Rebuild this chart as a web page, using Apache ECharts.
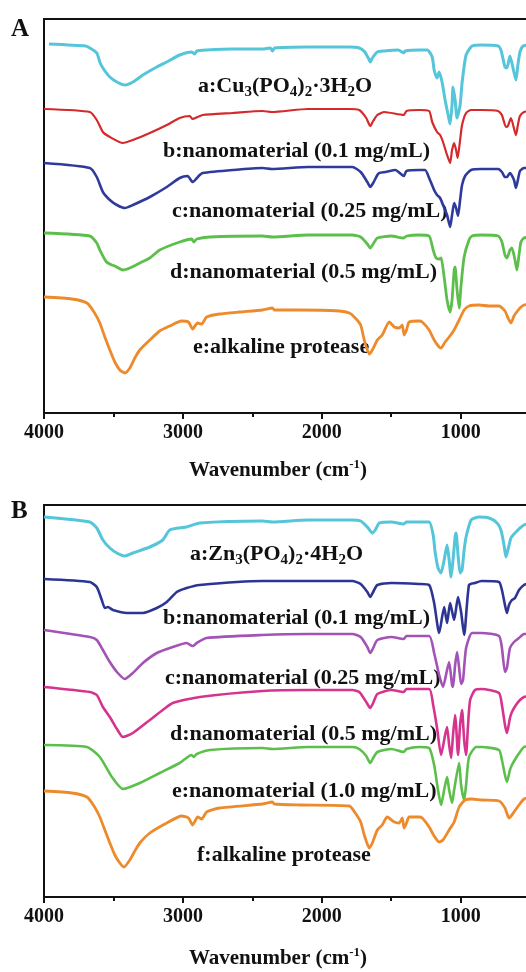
<!DOCTYPE html>
<html><head><meta charset="utf-8">
<script src="https://cdn.jsdelivr.net/npm/echarts@6/dist/echarts.min.js"></script>
<style>html,body{margin:0;padding:0;background:#fff}#c{width:526px;height:972px}</style>
</head><body><div id="c"></div><script>
// ---- axis ticks (wavenumber, cm-1) ----
const wnTicks = [1000, 2000, 3000, 4000];
const wnMinorTicks = [500, 1500, 2500, 3500];

// ---- Panel A spectra: [wavenumber, transmittance (a.u., offset)] ----
const cuPhosphate = [[3964,369],[3700,367],[3670,365],[3620,360],[3598,351],[3576,345],[3526,336],[3475,331],[3418,328],[3360,331],[3288,338],[3188,346],[3116,351],[3023,358],[2937,361],[2915,359],[2900,362],[2829,363],[2640,364],[2427,364],[2370,365],[2355,362],[2340,365],[2100,366],[1800,366],[1730,365],[1690,361],[1658,353],[1651,351],[1636,355],[1600,361],[1550,362],[1450,363],[1410,360],[1400,362],[1300,363],[1240,363],[1205,356],[1191,343],[1170,335],[1155,341],[1134,331],[1112,313],[1083,293],[1076,289],[1062,308],[1055,326],[1040,313],[1026,295],[1004,308],[990,330],[961,358],[918,367],[850,368],[730,367],[710,363],[681,346],[667,345],[645,357],[620,343],[602,333],[588,348],[573,361],[550,367],[500,368]];
const cuNano01 = [[4000,304],[3670,301],[3620,293],[3576,281],[3526,276],[3432,270],[3360,273],[3238,280],[3116,288],[3023,295],[2951,297],[2930,294],[2894,296],[2858,298],[2640,300],[2427,302],[2360,301],[2100,304],[1800,304],[1730,303],[1680,295],[1651,287],[1630,292],[1600,298],[1550,301],[1410,298],[1390,302],[1300,303],[1227,302],[1205,291],[1170,281],[1148,278],[1127,271],[1098,258],[1076,250],[1062,263],[1047,270],[1033,263],[1022,255],[1004,273],[990,288],[961,300],[925,303],[850,303],[730,302],[703,298],[674,286],[660,287],[638,295],[602,278],[588,288],[573,297],[544,301],[500,302]];
const cuNano025 = [[4000,250],[3670,245],[3620,236],[3576,221],[3526,213],[3475,208],[3418,205],[3360,208],[3238,216],[3116,226],[3023,235],[2966,237],[2930,231],[2879,238],[2858,240],[2640,243],[2427,245],[2360,244],[2100,246],[1780,246],[1720,241],[1672,231],[1651,226],[1630,230],[1600,238],[1586,240],[1540,241],[1470,243],[1410,237],[1390,242],[1300,243],[1256,243],[1227,235],[1191,223],[1170,218],[1148,215],[1127,208],[1098,198],[1076,186],[1062,198],[1047,210],[1033,205],[1019,197],[1004,213],[990,228],[968,237],[925,243],[850,244],[730,244],[703,241],[681,236],[667,236],[645,240],[616,233],[602,225],[588,233],[573,242],[544,245],[500,245]];
const cuNano05 = [[4000,180],[3670,177],[3620,170],[3598,163],[3550,151],[3511,148],[3490,147],[3432,143],[3382,145],[3310,150],[3238,155],[3167,163],[3023,171],[2937,174],[2922,171],[2900,174],[2807,176],[2427,177],[2355,176],[2100,178],[1780,178],[1720,176],[1672,169],[1651,165],[1630,169],[1600,175],[1500,177],[1410,175],[1390,177],[1300,178],[1227,177],[1198,163],[1177,155],[1155,154],[1141,155],[1119,136],[1098,113],[1076,101],[1062,113],[1047,143],[1040,146],[1026,123],[1011,105],[997,128],[975,156],[940,173],[918,177],[850,178],[730,177],[703,171],[681,158],[667,155],[645,163],[631,165],[609,153],[595,143],[580,158],[566,171],[544,175],[500,176]];
const cuProtease = [[4000,116],[3800,114],[3691,110],[3640,101],[3598,90],[3562,76],[3526,63],[3490,51],[3454,43],[3418,40],[3382,45],[3346,55],[3310,63],[3238,73],[3167,82],[3095,87],[3009,92],[2960,91],[2930,84],[2908,88],[2894,90],[2865,89],[2829,96],[2736,99],[2592,101],[2427,103],[2355,105],[2341,103],[2161,103],[1874,102],[1802,100],[1759,95],[1720,88],[1694,73],[1658,59],[1636,63],[1600,73],[1565,78],[1514,91],[1478,86],[1442,85],[1421,88],[1407,78],[1390,83],[1371,91],[1300,92],[1277,91],[1227,83],[1191,73],[1155,66],[1141,65],[1112,71],[1083,76],[1047,83],[1011,93],[975,103],[940,107],[868,108],[796,107],[724,107],[681,102],[659,95],[638,90],[616,97],[602,100],[573,105],[544,108],[500,109]];

// ---- Panel B spectra ----
const znPhosphate = [[4000,380],[3670,375],[3620,369],[3576,357],[3526,349],[3475,344],[3418,341],[3360,344],[3238,350],[3145,357],[3095,367],[2973,370],[2879,374],[2427,376],[2355,375],[2100,377],[1780,377],[1720,376],[1672,370],[1636,364],[1615,367],[1586,374],[1500,375],[1410,373],[1390,375],[1300,375],[1227,375],[1198,362],[1184,345],[1163,329],[1141,324],[1119,337],[1098,352],[1083,337],[1069,320],[1055,337],[1040,360],[1033,364],[1019,342],[1004,324],[990,327],[975,347],[961,360],[925,377],[868,380],[796,379],[738,374],[710,367],[688,352],[674,340],[660,347],[638,359],[616,363],[602,365],[573,369],[544,372],[500,374]];
const znNano01 = [[4000,318],[3670,315],[3620,310],[3584,297],[3562,289],[3540,290],[3504,287],[3403,284],[3288,284],[3188,289],[3116,295],[3044,305],[2973,309],[2879,312],[2427,316],[2100,316],[1780,316],[1720,313],[1672,305],[1651,300],[1630,305],[1600,312],[1500,314],[1300,313],[1227,312],[1191,294],[1155,264],[1119,290],[1098,274],[1076,294],[1047,277],[1019,300],[997,285],[975,262],[940,312],[897,314],[850,316],[724,315],[703,307],[681,292],[667,284],[652,292],[631,297],[609,299],[580,307],[544,312],[500,314]];
const znNano025 = [[4000,267],[3670,260],[3620,257],[3576,247],[3526,235],[3475,225],[3418,218],[3360,224],[3288,234],[3188,244],[3073,250],[2973,254],[2930,251],[2900,254],[2829,259],[2427,262],[2100,263],[1780,263],[1720,260],[1672,250],[1651,244],[1630,249],[1600,257],[1500,260],[1410,258],[1390,261],[1227,261],[1191,244],[1155,222],[1127,210],[1098,227],[1083,235],[1062,212],[1055,210],[1040,232],[1026,245],[1011,229],[997,213],[983,217],[961,249],[918,264],[850,264],[724,261],[703,249],[681,225],[667,229],[645,249],[616,255],[580,259],[544,263],[500,263]];
const znNano05 = [[4000,210],[3670,205],[3620,202],[3576,190],[3526,180],[3475,168],[3432,160],[3360,164],[3238,177],[3145,187],[3073,194],[2879,200],[2427,206],[2100,207],[1780,207],[1730,205],[1680,195],[1651,189],[1630,194],[1600,203],[1500,207],[1410,205],[1390,208],[1227,208],[1198,192],[1170,169],[1141,142],[1112,162],[1098,170],[1083,152],[1069,139],[1055,162],[1040,182],[1033,172],[1019,142],[1004,172],[990,187],[975,157],[961,142],[947,172],[932,197],[897,207],[850,208],[724,204],[703,192],[681,172],[667,164],[645,179],[631,185],[602,192],[573,197],[544,200],[500,201]];
const znNano10 = [[4000,152],[3691,150],[3598,140],[3511,120],[3432,108],[3310,114],[3167,124],[3023,134],[2937,142],[2922,140],[2900,143],[2807,147],[2427,149],[2355,148],[2100,150],[1780,150],[1730,148],[1680,141],[1651,134],[1630,139],[1600,145],[1500,148],[1410,145],[1390,148],[1300,150],[1227,149],[1191,132],[1163,107],[1141,92],[1119,107],[1098,120],[1083,107],[1062,94],[1047,107],[1011,134],[997,112],[975,97],[961,112],[940,140],[889,150],[850,150],[724,147],[703,137],[681,122],[667,115],[645,127],[631,132],[602,139],[573,145],[544,150],[500,151]];
const znProtease = [[4000,106],[3800,104],[3691,100],[3640,91],[3598,80],[3562,67],[3526,54],[3490,42],[3454,34],[3425,30],[3382,37],[3346,46],[3310,54],[3238,64],[3116,74],[3009,81],[2960,79],[2930,72],[2908,77],[2894,80],[2865,78],[2829,85],[2736,89],[2427,93],[2355,95],[2341,93],[2161,92],[1802,91],[1759,84],[1720,75],[1694,62],[1658,49],[1636,54],[1600,67],[1565,72],[1529,80],[1478,75],[1442,74],[1421,79],[1407,69],[1390,74],[1371,80],[1300,80],[1277,79],[1227,70],[1191,61],[1155,55],[1127,57],[1083,67],[1047,75],[1011,90],[968,97],[918,98],[850,97],[724,96],[681,89],[652,79],[631,82],[616,85],[580,92],[544,98],[500,100]];

const SERIF = '"Liberation Serif", "Times New Roman", serif';
const INK = '#111';

function grid(top, height) {
  return { left: 44, top: top, width: 500, height: height, show: true, containLabel: false,
           outerBoundsMode: 'none',
           borderColor: INK, borderWidth: 2, backgroundColor: 'transparent' };
}
function mainX(gi) {
  return { type: 'value', gridIndex: gi, min: 400, max: 4000, inverse: true, position: 'bottom',
    axisLine: { show: true, onZero: false, lineStyle: { color: INK, width: 2 } },
    axisTick: { show: true, inside: false, length: 6, customValues: wnTicks, lineStyle: { color: INK, width: 2 } },
    axisLabel: { show: true, customValues: wnTicks, margin: 10, color: INK,
      formatter: function (v) { return String(v); },
      fontFamily: SERIF, fontWeight: 'bold', fontSize: 20 },
    splitLine: { show: false } };
}
function minorX(gi) {
  return { type: 'value', gridIndex: gi, min: 400, max: 4000, inverse: true, position: 'bottom',
    axisLine: { show: false, onZero: false },
    axisTick: { show: true, inside: false, length: 4, customValues: wnMinorTicks, lineStyle: { color: INK, width: 2 } },
    axisLabel: { show: false }, splitLine: { show: false } };
}
function yAx(gi, max) {
  return { type: 'value', gridIndex: gi, min: 0, max: max, show: false };
}
function line(data, xi, yi, color, width) {
  return { type: 'line', data: data, xAxisIndex: xi, yAxisIndex: yi, symbol: 'none', showSymbol: false,
    smooth: 0.2, lineStyle: { color: color, width: width, join: 'round' }, animation: false, silent: true };
}

const subRich = {
  n: { fontFamily: SERIF, fontWeight: 'bold', fontSize: 22, lineHeight: 28, fill: INK },
  s: { fontFamily: SERIF, fontWeight: 'bold', fontSize: 15, lineHeight: 10, verticalAlign: 'bottom', fill: INK },
  p: { fontFamily: SERIF, fontWeight: 'bold', fontSize: 13, lineHeight: 10, verticalAlign: 'top', fill: INK },
  t: { fontFamily: SERIF, fontWeight: 'bold', fontSize: 21, lineHeight: 26, fill: INK }
};
function label(x, y, text, align) {
  return { type: 'text', x: x, y: y, silent: true,
    style: { text: text, rich: subRich, align: align || 'left', verticalAlign: 'middle', fill: INK,
      font: 'bold 22px ' + SERIF } };
}

const chart = echarts.init(document.getElementById('c'), null, { renderer: 'canvas' });
chart.setOption({
  backgroundColor: '#fff',
  animation: false,
  grid: [grid(19, 394), grid(505, 392)],
  xAxis: [mainX(0), minorX(0), mainX(1), minorX(1)],
  yAxis: [yAx(0, 394), yAx(1, 392)],
  series: [
    line(cuPhosphate, 0, 0, '#55C5DA', 3),
    line(cuNano01, 0, 0, '#D42A2C', 2.2),
    line(cuNano025, 0, 0, '#2E3A9C', 2.6),
    line(cuNano05, 0, 0, '#5CBF4B', 2.8),
    line(cuProtease, 0, 0, '#EC8A2C', 2.8),
    line(znPhosphate, 2, 1, '#55C5DA', 3),
    line(znNano01, 2, 1, '#2D3594', 2.6),
    line(znNano025, 2, 1, '#A352B5', 2.6),
    line(znNano05, 2, 1, '#D6338F', 2.6),
    line(znNano10, 2, 1, '#5CBF4B', 2.6),
    line(znProtease, 2, 1, '#EC8A2C', 2.8)
  ],
  graphic: [
    { type: 'text', x: 11, y: 30, silent: true, style: { text: 'A', font: 'bold 25px ' + SERIF, fill: INK, verticalAlign: 'middle' } },
    { type: 'text', x: 11, y: 512, silent: true, style: { text: 'B', font: 'bold 25px ' + SERIF, fill: INK, verticalAlign: 'middle' } },
    label(198, 86, '{n|a:Cu}{s|3}{n|(PO}{s|4}{n|)}{s|2}{n|·3H}{s|2}{n|O}'),
    label(163, 151, '{n|b:nanomaterial (0.1 mg/mL)}'),
    label(172, 211, '{n|c:nanomaterial (0.25 mg/mL)}'),
    label(170, 272, '{n|d:nanomaterial (0.5 mg/mL)}'),
    label(193, 347, '{n|e:alkaline protease}'),
    label(278, 471, '{t|Wavenumber (cm}{p|-1}{t|)}', 'center'),
    label(190, 554, '{n|a:Zn}{s|3}{n|(PO}{s|4}{n|)}{s|2}{n|·4H}{s|2}{n|O}'),
    label(163, 618, '{n|b:nanomaterial (0.1 mg/mL)}'),
    label(165, 678, '{n|c:nanomaterial (0.25 mg/mL)}'),
    label(170, 734, '{n|d:nanomaterial (0.5 mg/mL)}'),
    label(172, 791, '{n|e:nanomaterial (1.0 mg/mL)}'),
    label(197, 855, '{n|f:alkaline protease}'),
    label(278, 959, '{t|Wavenumber (cm}{p|-1}{t|)}', 'center')
  ]
});
</script></body></html>
